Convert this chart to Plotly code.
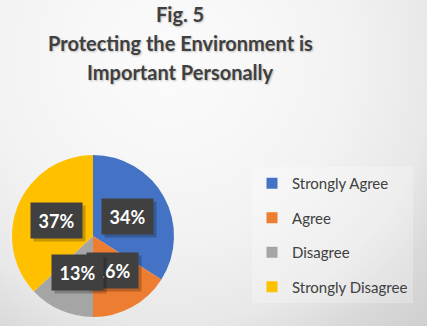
import math
import urllib.parse
import plotly.graph_objects as go

# ---- data ----
categories = ["Strongly Agree", "Agree", "Disagree", "Strongly Disagree"]
values = [34, 16, 13, 37]
colors = ["#4472C4", "#ED7D31", "#A5A5A5", "#FFC000"]
title_lines = ["Fig. 5", "Protecting the Environment is", "Important Personally"]

W, H = 427, 326
# pie domain in pixels
px0, px1 = 12, 174
py_top, py_bot = 155, 317
dom_x = [px0 / W, px1 / W]
dom_y = [1 - py_bot / H, 1 - py_top / H]

fig = go.Figure()

fig.add_trace(go.Pie(
    labels=categories, values=values, sort=False, direction="clockwise",
    rotation=0, marker=dict(colors=colors, line=dict(width=0)),
    textinfo="none", hoverinfo="label+percent", showlegend=False,
    domain=dict(x=dom_x, y=dom_y),
))

# legend entries
for i, (c, col) in enumerate(zip(categories, colors)):
    fig.add_trace(go.Scatter(
        x=[None], y=[None], mode="markers", name=c, legendgroup=c,
        marker=dict(symbol="square", size=11, color=col),
        showlegend=True,
    ))

annotations = []
# title lines
title_y = [14, 43, 72]
for t, ty in zip(title_lines, title_y):
    annotations.append(dict(
        x=180 / W, y=1 - ty / H, xref="paper", yref="paper",
        xanchor="center", yanchor="middle", showarrow=False,
        text=f"<b>{t}</b>",
        font=dict(family="Lato", size=20, color="#404040",
                  shadow="1px 1px 2px rgba(0,0,0,0.25)"),
    ))

# data labels placed at half radius of each slice's mid angle
cx = (px0 + px1) / 2
cy = (py_top + py_bot) / 2
R = (px1 - px0) / 2
total = sum(values)
cum = 0
for v in values:
    mid = (cum + v / 2) / total * 2 * math.pi
    cum += v
    lx = cx + 0.49 * R * math.sin(mid)
    ly = cy - 0.49 * R * math.cos(mid)
    pct = f"{round(v / total * 100)}%"
    # shadow
    annotations.append(dict(
        x=lx / W, y=1 - ly / H, xref="paper", yref="paper", text="",
        xanchor="center", yanchor="middle",
        showarrow=False, width=49, height=33, bgcolor="rgba(0,0,0,0.22)",
        xshift=3, yshift=-3,
    ))
    annotations.append(dict(
        x=lx / W, y=1 - ly / H, xref="paper", yref="paper", text=f"<b>{pct}</b>",
        xanchor="center", yanchor="middle",
        showarrow=False, width=49, height=33, bgcolor="#404040",
        font=dict(family="Lato", size=18, color="white"),
    ))

svg = (
    "<svg xmlns='http://www.w3.org/2000/svg' width='427' height='326'>"
    "<defs><radialGradient id='g' cx='170' cy='60' r='400' gradientUnits='userSpaceOnUse'>"
    "<stop offset='0' stop-color='#fbfbfb'/>"
    "<stop offset='0.2' stop-color='#f8f8f8'/>"
    "<stop offset='0.45' stop-color='#f2f2f2'/>"
    "<stop offset='0.66' stop-color='#e8e8e8'/>"
    "<stop offset='0.79' stop-color='#d9d9d9'/>"
    "<stop offset='0.925' stop-color='#cfcfcf'/>"
    "<stop offset='1' stop-color='#cbcbcb'/>"
    "</radialGradient></defs><rect width='427' height='326' fill='url(#g)'/></svg>"
)
bg_uri = "data:image/svg+xml;charset=utf-8," + urllib.parse.quote(svg)

fig.update_layout(
    width=W, height=H,
    margin=dict(l=0, r=0, t=0, b=0),
    paper_bgcolor="#eeeeee", plot_bgcolor="rgba(0,0,0,0)",
    xaxis=dict(visible=False), yaxis=dict(visible=False),
    legend=dict(
        x=252 / W, y=1 - 167 / H, xanchor="left", yanchor="top",
        bgcolor="rgba(255,255,255,0.25)", borderwidth=0,
        font=dict(family="Lato", size=15, color="#404040"),
        tracegroupgap=12, itemclick=False, itemdoubleclick=False,
    ),
    annotations=annotations,
    images=[dict(
        source=bg_uri, xref="paper", yref="paper", x=0, y=1, sizex=1, sizey=1,
        xanchor="left", yanchor="top", sizing="stretch", layer="below",
    )],
    showlegend=True,
)

fig.write_html("out.html")
